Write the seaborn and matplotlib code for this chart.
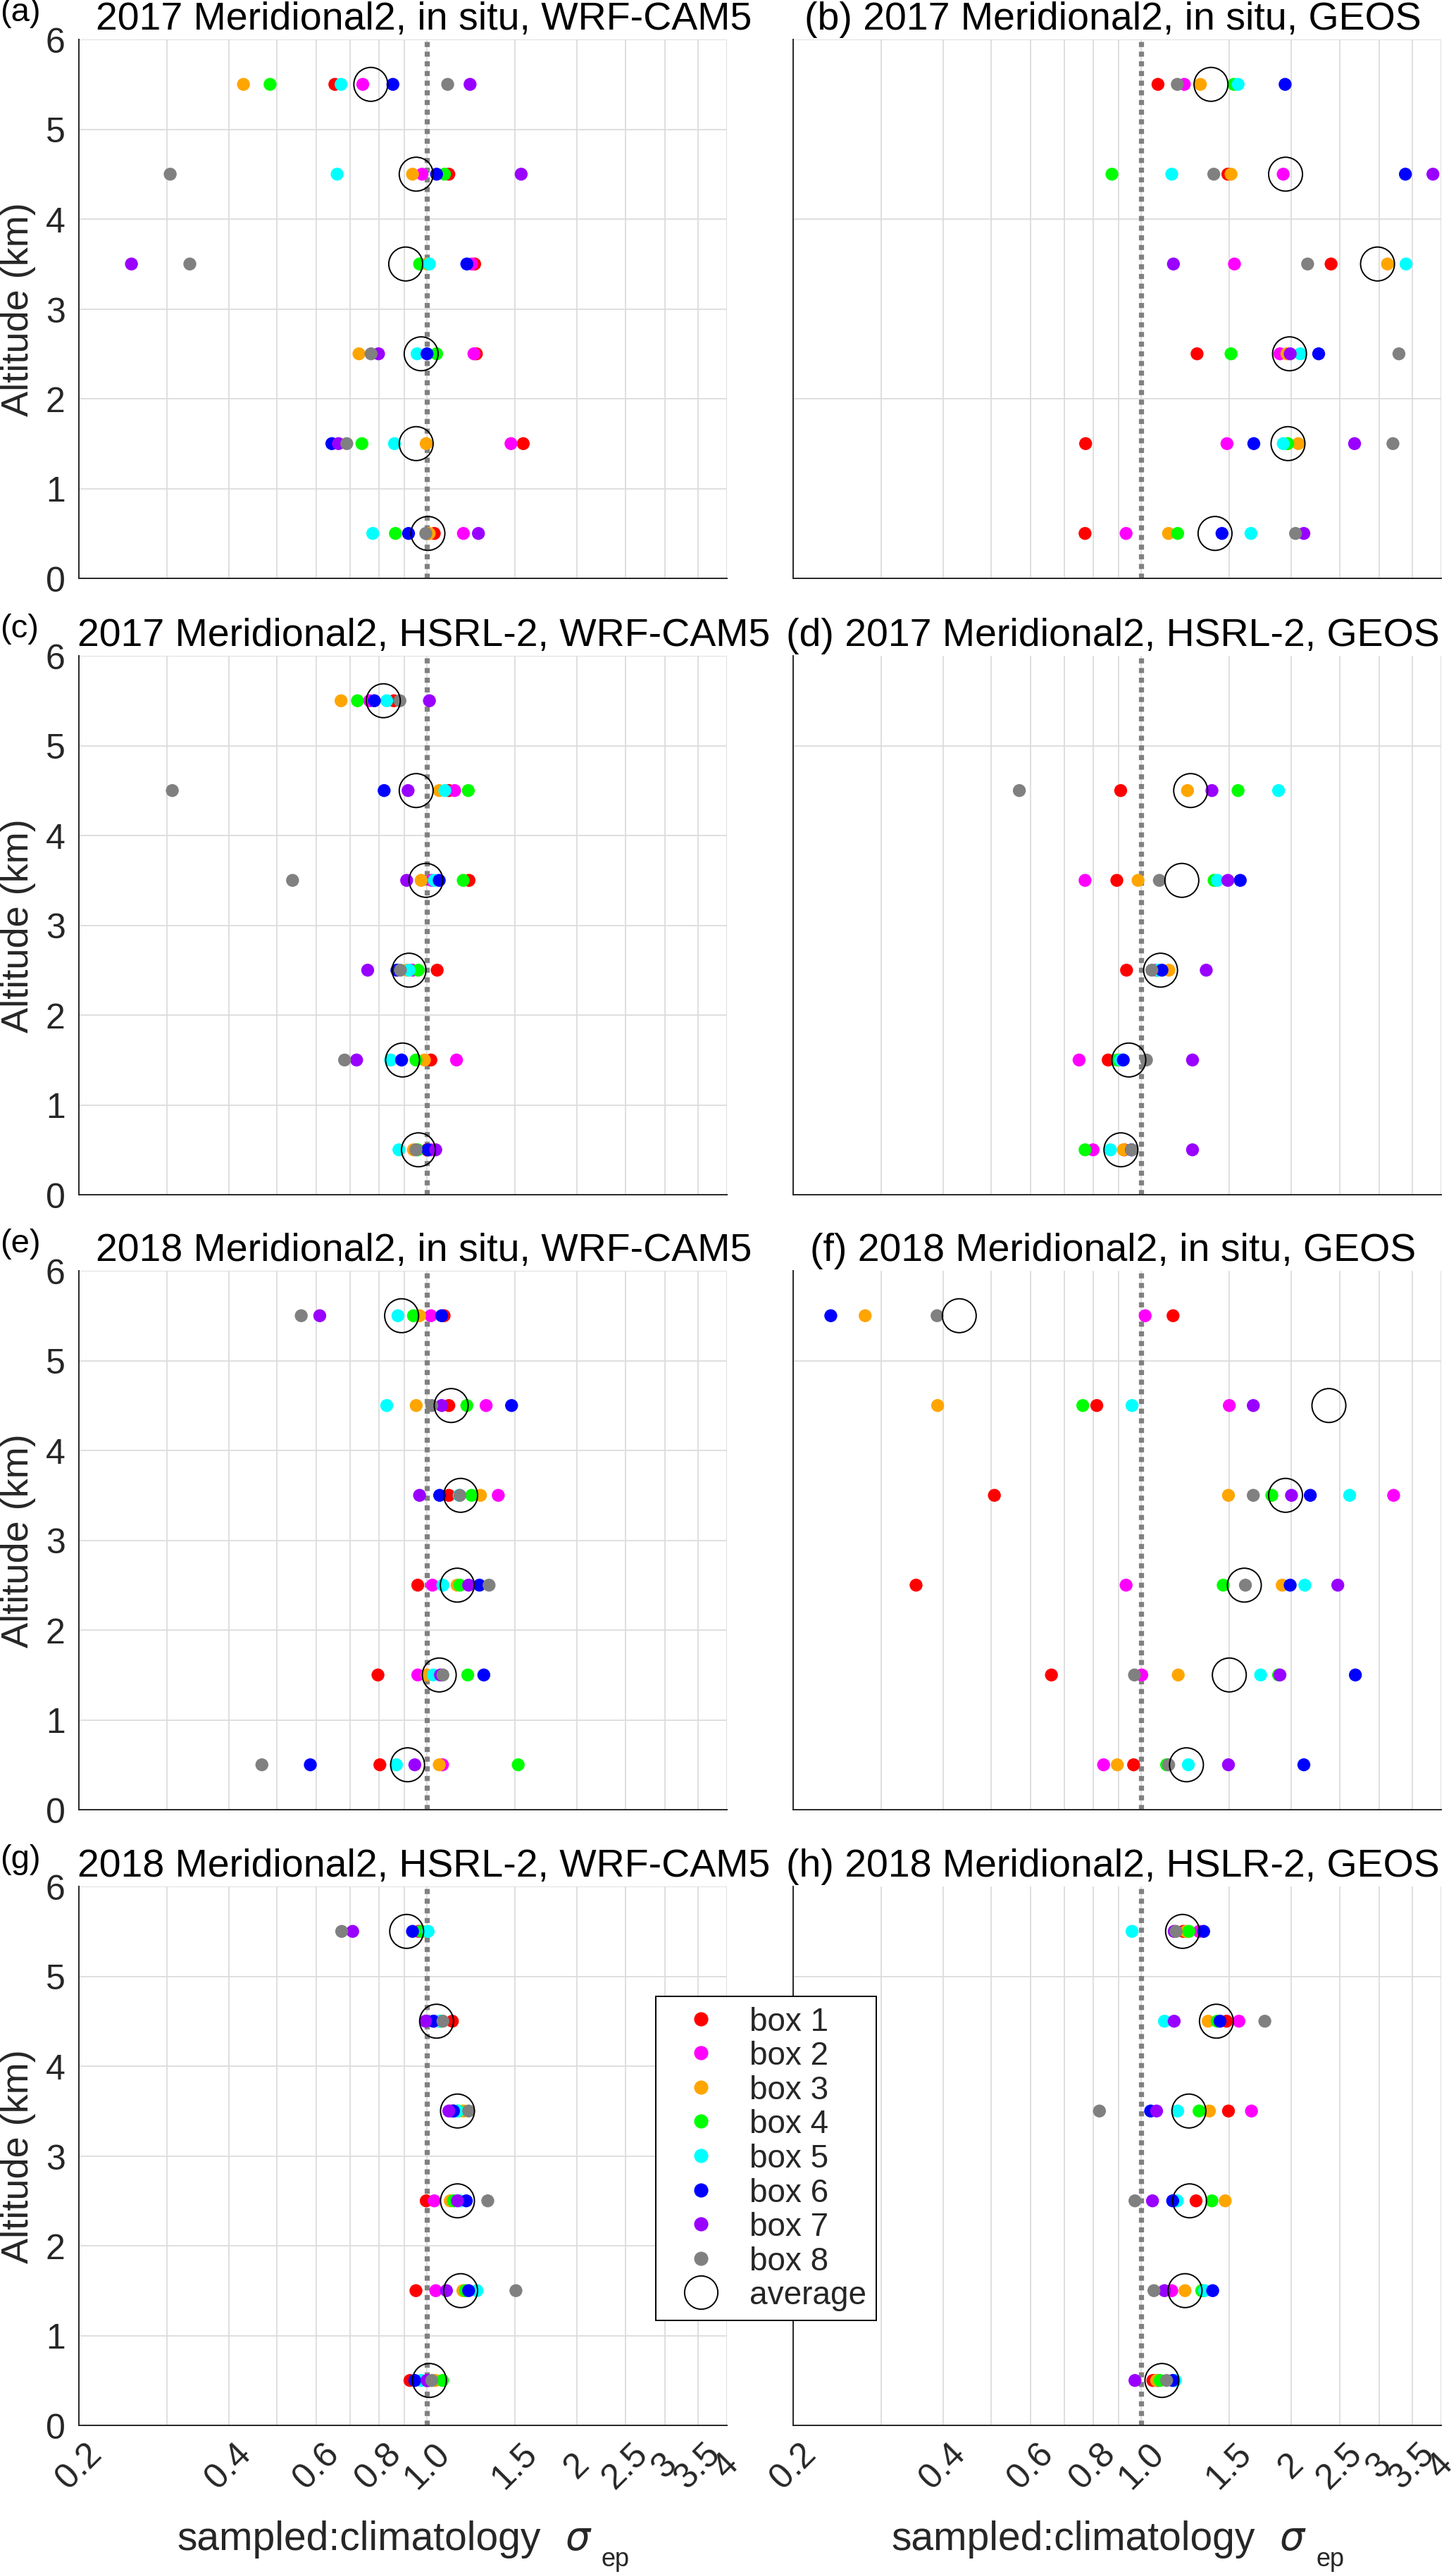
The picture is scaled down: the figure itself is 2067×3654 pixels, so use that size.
import numpy as np
import pandas as pd
import matplotlib
matplotlib.use('Agg')
import matplotlib.pyplot as plt
import seaborn as sns
from matplotlib.lines import Line2D

# ---- data (rows: altitude 0.5 ... 5.5, columns: box 1 ... box 8) ----
altitudes = [0.5, 1.5, 2.5, 3.5, 4.5, 5.5]
boxes = ['box 1', 'box 2', 'box 3', 'box 4', 'box 5', 'box 6', 'box 7', 'box 8']
box_colors = ['#FF0000', '#FF00FF', '#FFA500', '#00FF00', '#00FFFF', '#0000FF', '#9900FF', '#808080']
nan = np.nan

a_vals = [[1.034, 1.183, 1.01, 0.864, 0.778, 0.918, 1.268, 0.994],
          [1.56, 1.474, 0.996, 0.740, 0.860, 0.644, 0.664, 0.690],
          [1.256, 1.242, 0.730, 1.045, 0.955, 1.0, 0.799, 0.772],
          [1.246, 1.229, 1.0, 0.966, 1.011, 1.202, 0.255, 0.334],
          [1.106, 0.977, 0.935, 1.084, 0.660, 1.045, 1.545, 0.305],
          [0.653, 0.743, 0.428, 0.484, 0.672, 0.854, 1.22, 1.10]]
a_avg = [1.004, 0.951, 0.973, 0.906, 0.951, 0.771]

b_vals = [[0.771, 0.932, 1.134, 1.183, 1.66, 1.452, 2.12, 2.04],
          [0.773, 1.486, 2.066, 1.968, 1.927, 1.682, 2.68, 3.20],
          [1.294, 1.898, 1.96, 1.514, 2.085, 2.27, 1.990, 3.29],
          [2.404, 1.538, 3.12, nan, 3.40, nan, 1.160, 2.157],
          [1.492, 1.927, 1.514, 0.873, 1.151, 3.39, 3.85, 1.398],
          [1.080, 1.22, 1.314, 1.534, 1.564, 1.944, nan, 1.181]]
b_avg = [1.406, 1.97, 1.984, 2.98, 1.948, 1.38]

c_vals = [[1.0, 1.018, 0.939, 0.957, 0.878, 1.004, 1.041, 0.950],
          [1.018, 1.146, 0.988, 0.950, 0.845, 0.889, 0.722, 0.683],
          [1.048, 0.935, 0.912, 0.960, 0.920, 0.870, 0.760, 0.884],
          [1.214, 1.022, 0.973, 1.182, 1.034, 1.058, 0.910, 0.537],
          [1.106, 1.136, 1.058, 1.21, 1.086, 0.820, 0.916, 0.308],
          [0.858, 0.767, 0.672, 0.725, 0.830, 0.784, 1.011, 0.882]]
c_avg = [0.961, 0.893, 0.920, 0.995, 0.951, 0.817]

d_vals = [[0.924, 0.80, 0.920, 0.771, 0.867, 0.956, 1.267, 0.956],
          [0.858, 0.750, 0.905, 0.895, 0.909, 0.920, 1.267, 1.024],
          [0.934, 1.07, 1.136, 1.078, 1.08, 1.10, 1.35, 1.05],
          [0.893, 0.771, 0.985, 1.40, 1.421, 1.58, 1.492, 1.087],
          [0.909, nan, 1.238, 1.564, 1.886, nan, 1.386, 0.569],
          [nan, nan, nan, nan, nan, nan, nan, nan]]
d_avg = [0.910, 0.944, 1.093, 1.206, 1.256, nan]

e_vals = [[0.804, 1.074, 1.058, 1.524, 0.868, 0.583, 0.945, 0.466],
          [0.797, 0.958, 1.0, 1.207, 1.029, 1.30, 1.064, 1.076],
          [0.958, 1.025, 1.149, 1.164, 1.076, 1.274, 1.212, 1.332],
          [1.106, 1.39, 1.28, 1.229, 1.16, 1.06, 0.966, 1.164],
          [1.106, 1.314, 0.951, 1.202, 0.830, 1.478, 1.07, 1.022],
          [1.082, 1.018, 0.966, 0.939, 0.874, 1.07, 0.609, 0.559]]
e_avg = [0.914, 1.058, 1.15, 1.168, 1.118, 0.889]

f_vals = [[0.965, 0.840, 0.895, 1.124, 1.243, 2.12, 1.496, 1.135],
          [0.660, 1.002, 1.186, 1.886, 1.736, 2.69, 1.898, 0.969],
          [0.353, 0.932, 1.918, 1.46, 2.13, 1.99, 2.48, 1.618],
          [0.507, 3.21, 1.496, 1.828, 2.62, 2.184, 2.002, 1.678],
          [0.814, 1.502, 0.390, 0.763, 0.958, nan, 1.678, nan],
          [1.158, 1.018, 0.279, nan, nan, 0.238, nan, 0.389]]
f_avg = [1.232, 1.502, 1.61, 1.948, 2.38, 0.431]

g_vals = [[0.924, 1.0, 1.04, 1.074, 0.973, 0.945, 1.0, 1.022],
          [0.950, 1.041, 1.18, 1.194, 1.26, 1.212, 1.094, 1.508],
          [0.996, 1.034, 1.113, 1.13, 1.164, 1.199, 1.151, 1.324],
          [1.13, 1.118, 1.183, 1.155, 1.151, 1.13, 1.106, 1.212],
          [1.124, 1.034, 1.058, 1.065, 1.058, 1.029, 0.993, 1.076],
          [0.962, 0.97, 0.978, 0.973, 1.005, 0.935, 0.709, 0.674]]
g_avg = [1.011, 1.168, 1.151, 1.151, 1.045, 0.910]

h_vals = [[1.055, 1.08, 1.073, 1.091, 1.17, 1.156, 0.971, 1.124],
          [1.326, 1.151, 1.224, 1.322, 1.34, 1.391, 1.113, 1.06],
          [1.288, 1.17, 1.474, 1.386, 1.181, 1.156, 1.053, 0.971],
          [1.496, 1.664, 1.37, 1.306, 1.183, 1.044, 1.073, 0.824],
          [1.483, 1.57, 1.362, 1.42, 1.113, 1.439, 1.164, 1.77],
          [1.214, 1.306, 1.23, 1.246, 0.958, 1.334, 1.164, 1.174]]
h_avg = [1.10, 1.224, 1.25, 1.246, 1.415, 1.21]

panel_letters = ['(a)', '(b)', '(c)', '(d)', '(e)', '(f)', '(g)', '(h)']
panel_titles = ['2017 Meridional2, in situ, WRF-CAM5', '2017 Meridional2, in situ, GEOS',
                '2017 Meridional2, HSRL-2, WRF-CAM5', '2017 Meridional2, HSRL-2, GEOS',
                '2018 Meridional2, in situ, WRF-CAM5', '2018 Meridional2, in situ, GEOS',
                '2018 Meridional2, HSRL-2, WRF-CAM5', '2018 Meridional2, HSLR-2, GEOS']
panel_vals = [a_vals, b_vals, c_vals, d_vals, e_vals, f_vals, g_vals, h_vals]
panel_avgs = [a_avg, b_avg, c_avg, d_avg, e_avg, f_avg, g_avg, h_avg]
right_yticks = [[2, 4, 6], [5], [5], [5]]

x_ticks = [0.2, 0.3, 0.4, 0.5, 0.6, 0.7, 0.8, 0.9, 1.0, 1.5, 2, 2.5, 3, 3.5, 4]
x_ticklabels = ['0.2', '', '0.4', '', '0.6', '', '0.8', '', '1.0', '1.5', '2', '2.5', '3', '3.5', '4']

# ---- figure ----
sns.set_style('white')
plt.rcParams['font.family'] = ['Liberation Sans', 'DejaVu Sans']

W, H = 2067, 3655
fig = plt.figure(figsize=(W / 100, H / 100), dpi=100)

def fx(px):
    return px / W

def fy(px):
    return 1 - px / H

row_tops = [57, 932, 1805, 2679]
ax_h = 765
ax_w = 920
col_lefts = [112, 1126]
ink = '#262626'

for i in range(8):
    row, col = i // 2, i % 2
    top = row_tops[row]
    left = col_lefts[col]
    ax = fig.add_axes([fx(left), fy(top + ax_h), ax_w / W, ax_h / H])

    recs = []
    for b, name in enumerate(boxes):
        for k, alt in enumerate(altitudes):
            v = panel_vals[i][k][b]
            if not np.isnan(v):
                recs.append({'ratio': v, 'altitude': alt, 'box': name})
    df = pd.DataFrame(recs)

    ax.axvline(1.0, color='#808080', lw=5.2, ls=(0, (1.0, 0.9)), zorder=2)
    sns.scatterplot(data=df, x='ratio', y='altitude', hue='box', hue_order=boxes,
                    palette=box_colors, s=175, linewidth=0, legend=False, ax=ax, zorder=3)
    ax.scatter(panel_avgs[i], altitudes, s=1200, facecolors='none',
               edgecolors='black', linewidths=1.4, zorder=4)

    ax.set_xscale('log')
    ax.set_xlim(0.2, 4)
    ax.set_ylim(0, 6)
    ax.set_xticks(x_ticks)
    ax.xaxis.set_minor_locator(matplotlib.ticker.NullLocator())
    if row == 3:
        ax.set_xticklabels(x_ticklabels)
    else:
        ax.set_xticklabels([''] * len(x_ticks))
    if col == 0:
        ax.set_yticks(range(7))
        ax.set_yticklabels([str(t) for t in range(7)])
    else:
        ax.set_yticks(right_yticks[row])
        ax.set_yticklabels([''] * len(right_yticks[row]))
    ax.set_xlabel('')
    ax.set_ylabel('')

    ax.grid(True, color='#DCDCDC', lw=1.3)
    ax.set_axisbelow(True)
    for s in ['top', 'right']:
        ax.spines[s].set_visible(False)
    for s in ['left', 'bottom']:
        ax.spines[s].set_color(ink)
        ax.spines[s].set_linewidth(1.4)
    ax.tick_params(axis='both', direction='in', length=8, width=1.2, color=ink,
                   labelcolor=ink, labelsize=36)
    ax.tick_params(axis='y', pad=14)
    ax.tick_params(axis='x', pad=41)
    for lab in ax.get_xticklabels():
        lab.set_rotation(45)
        lab.set_ha('center')
        lab.set_va('center')

    # titles
    if col == 0:
        fig.text(fx(602), fy(top - 15), panel_titles[i], ha='center', va='baseline',
                 fontsize=40, color='black')
        fig.text(fx(0), fy(top - 27), panel_letters[i], ha='left', va='baseline',
                 fontsize=34, color='black')
        fig.text(fx(26), fy(top + ax_h / 2), 'Altitude (km)', rotation=90,
                 ha='center', va='center', fontsize=39, color=ink)
    else:
        fig.text(fx(1580), fy(top - 15), panel_letters[i] + ' ' + panel_titles[i],
                 ha='center', va='baseline', fontsize=40, color='black')

    if row == 3:
        fig.text(fx(left + 139), fy(3620), 'sampled:climatology', ha='left',
                 va='baseline', fontsize=41, color=ink)
        fig.text(fx(left + 690), fy(3620), r'$\sigma$', ha='left',
                 va='baseline', fontsize=40, color=ink)
        fig.text(fx(left + 742), fy(3643), 'ep', ha='left',
                 va='baseline', fontsize=26, color=ink)

# legend
handles = [Line2D([0], [0], marker='o', linestyle='none', markersize=13.5,
                  markerfacecolor=c, markeredgecolor=c) for c in box_colors]
handles.append(Line2D([0], [0], marker='o', linestyle='none', markersize=34,
                      markerfacecolor='none', markeredgecolor='black', markeredgewidth=1.4))
leg = fig.legend(handles, boxes + ['average'], loc='upper left',
                 bbox_to_anchor=(fx(931), fy(2835)), borderaxespad=0,
                 fontsize=33, frameon=True, fancybox=False, framealpha=1,
                 edgecolor='black', handlelength=2.2, handletextpad=0.4,
                 labelspacing=0.1, borderpad=0.3)
leg.get_frame().set_linewidth(1.4)

fig.savefig('out.png', dpi=100)
